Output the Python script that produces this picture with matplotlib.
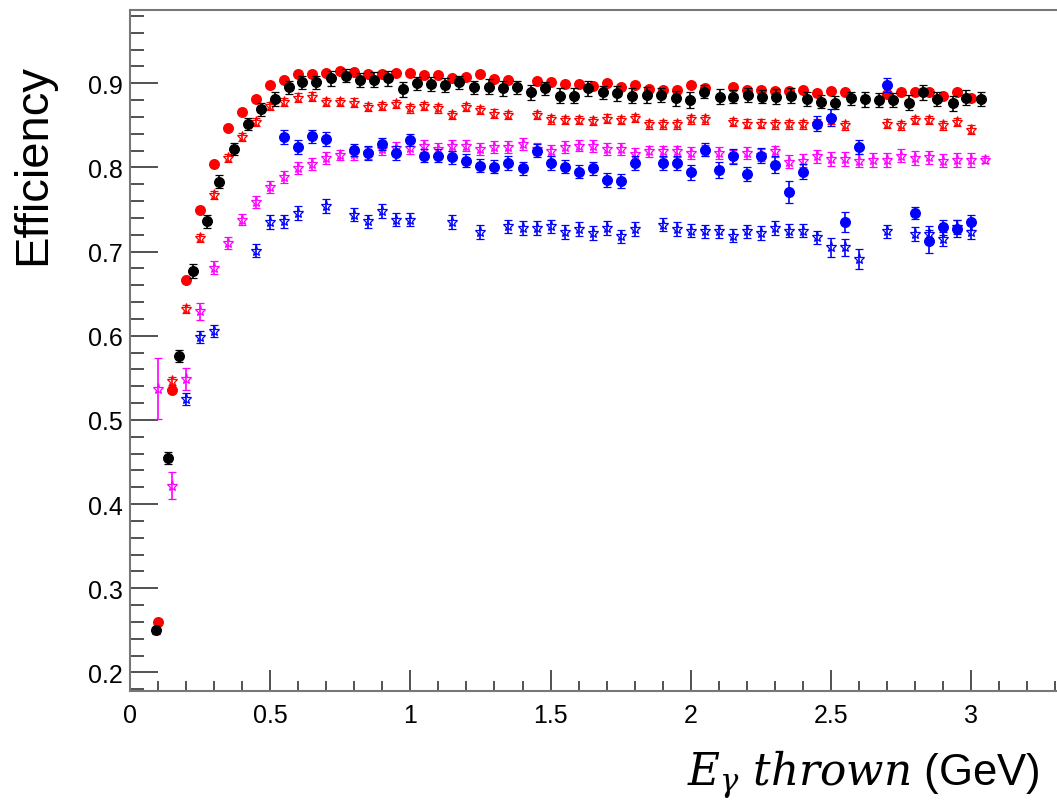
import matplotlib
matplotlib.use("Agg")
import matplotlib.pyplot as plt
from matplotlib.ticker import MultipleLocator, FormatStrFormatter

plt.rcParams['font.family'] = ['Liberation Sans', 'DejaVu Sans']
plt.rcParams['mathtext.fontset'] = 'dejavuserif'

# black: full circles
x_black = [0.093, 0.137, 0.176, 0.224, 0.274, 0.319, 0.372, 0.420, 0.466, 0.517,
           0.567, 0.615, 0.665, 0.717, 0.770, 0.821, 0.871, 0.922, 0.972, 1.023,
           1.073, 1.125, 1.175, 1.226, 1.280, 1.330, 1.380, 1.431, 1.482, 1.535,
           1.585, 1.635, 1.687, 1.737, 1.790, 1.844, 1.894, 1.948, 1.999, 2.048,
           2.103, 2.151, 2.203, 2.254, 2.305, 2.359, 2.413, 2.465, 2.516, 2.570,
           2.621, 2.671, 2.722, 2.778, 2.828, 2.879, 2.935, 2.983, 3.036]
y_black = [0.250, 0.455, 0.576, 0.677, 0.736, 0.783, 0.822, 0.852, 0.869, 0.881,
           0.895, 0.901, 0.901, 0.906, 0.909, 0.904, 0.904, 0.906, 0.893, 0.900,
           0.899, 0.898, 0.901, 0.895, 0.896, 0.894, 0.895, 0.889, 0.894, 0.885,
           0.885, 0.894, 0.889, 0.888, 0.885, 0.886, 0.886, 0.882, 0.880, 0.890,
           0.884, 0.884, 0.886, 0.884, 0.884, 0.885, 0.881, 0.878, 0.877, 0.882,
           0.881, 0.880, 0.880, 0.877, 0.889, 0.881, 0.876, 0.883, 0.881]
e_black = [0.004, 0.007, 0.007, 0.008, 0.008, 0.008, 0.007, 0.007, 0.008, 0.008,
           0.008, 0.008, 0.008, 0.009, 0.008, 0.008, 0.009, 0.009, 0.009, 0.008,
           0.008, 0.008, 0.008, 0.008, 0.009, 0.009, 0.008, 0.009, 0.008, 0.009,
           0.009, 0.009, 0.008, 0.009, 0.009, 0.009, 0.008, 0.009, 0.009, 0.008,
           0.009, 0.008, 0.008, 0.008, 0.009, 0.009, 0.008, 0.008, 0.008, 0.008,
           0.009, 0.008, 0.008, 0.009, 0.009, 0.008, 0.009, 0.009, 0.008]

# red: full circles
x_red = [0.10, 0.15, 0.20, 0.25, 0.30, 0.35, 0.40, 0.45, 0.50, 0.55,
         0.60, 0.65, 0.70, 0.75, 0.80, 0.85, 0.90, 0.95, 1.00, 1.05,
         1.10, 1.15, 1.20, 1.25, 1.30, 1.35, 1.45, 1.50, 1.55, 1.60,
         1.65, 1.70, 1.75, 1.80, 1.85, 1.90, 1.95, 2.00, 2.05, 2.15,
         2.20, 2.25, 2.30, 2.35, 2.40, 2.45, 2.50, 2.55, 2.70, 2.75,
         2.80, 2.85, 2.90, 2.95, 3.00]
y_red = [0.260, 0.535, 0.666, 0.750, 0.804, 0.847, 0.866, 0.881, 0.898, 0.904,
         0.911, 0.911, 0.912, 0.915, 0.913, 0.911, 0.911, 0.912, 0.912, 0.910,
         0.910, 0.906, 0.908, 0.911, 0.905, 0.904, 0.903, 0.902, 0.899, 0.899,
         0.897, 0.900, 0.896, 0.898, 0.893, 0.892, 0.892, 0.898, 0.894, 0.896,
         0.892, 0.892, 0.891, 0.891, 0.892, 0.888, 0.891, 0.889, 0.887, 0.890,
         0.889, 0.889, 0.885, 0.890, 0.882]

# red: open stars
x_red_s = [0.15, 0.20, 0.25, 0.30, 0.35, 0.40, 0.45, 0.50, 0.55, 0.60,
           0.65, 0.70, 0.75, 0.80, 0.85, 0.90, 0.95, 1.00, 1.05, 1.10,
           1.15, 1.20, 1.25, 1.30, 1.35, 1.45, 1.50, 1.55, 1.60, 1.65,
           1.70, 1.75, 1.80, 1.85, 1.90, 1.95, 2.00, 2.05, 2.15, 2.20,
           2.25, 2.30, 2.35, 2.40, 2.45, 2.50, 2.55, 2.70, 2.75, 2.80,
           2.85, 2.90, 2.95, 3.00]
y_red_s = [0.546, 0.632, 0.716, 0.767, 0.811, 0.836, 0.854, 0.873, 0.878, 0.883,
           0.884, 0.878, 0.878, 0.877, 0.872, 0.873, 0.875, 0.870, 0.873, 0.870,
           0.862, 0.872, 0.868, 0.864, 0.862, 0.862, 0.857, 0.856, 0.856, 0.855,
           0.858, 0.856, 0.859, 0.851, 0.851, 0.851, 0.857, 0.857, 0.854, 0.852,
           0.852, 0.851, 0.851, 0.851, 0.852, 0.856, 0.850, 0.852, 0.850, 0.856,
           0.856, 0.850, 0.854, 0.845]

# magenta: open stars
x_mag = [0.10, 0.15, 0.20, 0.25, 0.30, 0.35, 0.40, 0.45, 0.50, 0.55,
         0.60, 0.65, 0.70, 0.75, 0.80, 0.85, 0.90, 0.95, 1.00, 1.05,
         1.10, 1.15, 1.20, 1.25, 1.30, 1.35, 1.40, 1.45, 1.50, 1.55,
         1.60, 1.65, 1.70, 1.75, 1.80, 1.85, 1.90, 1.95, 2.00, 2.05,
         2.10, 2.15, 2.20, 2.25, 2.30, 2.35, 2.40, 2.45, 2.50, 2.55,
         2.60, 2.65, 2.70, 2.75, 2.80, 2.85, 2.90, 2.95, 3.00, 3.05]
y_mag = [0.537, 0.422, 0.549, 0.629, 0.681, 0.710, 0.738, 0.759, 0.777, 0.789,
         0.799, 0.804, 0.811, 0.815, 0.816, 0.817, 0.822, 0.823, 0.823, 0.825,
         0.822, 0.826, 0.826, 0.822, 0.824, 0.824, 0.828, 0.822, 0.820, 0.824,
         0.826, 0.825, 0.822, 0.822, 0.816, 0.819, 0.819, 0.819, 0.817, 0.820,
         0.817, 0.813, 0.817, 0.815, 0.819, 0.807, 0.808, 0.813, 0.810, 0.810,
         0.808, 0.809, 0.809, 0.814, 0.811, 0.812, 0.808, 0.809, 0.809, 0.809]
e_mag = [0.036, 0.016, 0.013, 0.010, 0.008, 0.007, 0.007, 0.007, 0.007, 0.007,
         0.007, 0.007, 0.007, 0.006, 0.007, 0.007, 0.007, 0.007, 0.007, 0.007,
         0.007, 0.007, 0.007, 0.007, 0.007, 0.007, 0.007, 0.007, 0.007, 0.007,
         0.007, 0.007, 0.007, 0.007, 0.007, 0.007, 0.007, 0.007, 0.007, 0.007,
         0.007, 0.008, 0.007, 0.007, 0.007, 0.008, 0.008, 0.008, 0.008, 0.008,
         0.008, 0.008, 0.008, 0.008, 0.008, 0.008, 0.008, 0.008, 0.008, 0.004]

# blue: full circles
x_blue = [0.55, 0.60, 0.65, 0.70, 0.80, 0.85, 0.90, 0.95, 1.00, 1.05,
          1.10, 1.15, 1.20, 1.25, 1.30, 1.35, 1.40, 1.45, 1.50, 1.55,
          1.60, 1.65, 1.70, 1.75, 1.80, 1.90, 1.95, 2.00, 2.05, 2.10,
          2.15, 2.20, 2.25, 2.30, 2.35, 2.40, 2.45, 2.50, 2.55, 2.60,
          2.70, 2.80, 2.85, 2.90, 2.95, 3.00]
y_blue = [0.836, 0.824, 0.837, 0.834, 0.821, 0.817, 0.828, 0.817, 0.833, 0.814,
          0.814, 0.812, 0.808, 0.802, 0.801, 0.805, 0.799, 0.820, 0.805, 0.801,
          0.795, 0.799, 0.785, 0.784, 0.805, 0.805, 0.805, 0.794, 0.821, 0.797,
          0.813, 0.792, 0.814, 0.803, 0.771, 0.795, 0.852, 0.859, 0.735, 0.824,
          0.898, 0.746, 0.712, 0.729, 0.727, 0.735]
e_blue = [0.008, 0.008, 0.008, 0.008, 0.007, 0.008, 0.007, 0.008, 0.007, 0.008,
          0.008, 0.008, 0.008, 0.008, 0.008, 0.008, 0.008, 0.008, 0.008, 0.008,
          0.008, 0.008, 0.008, 0.008, 0.008, 0.008, 0.008, 0.009, 0.008, 0.010,
          0.009, 0.008, 0.009, 0.010, 0.013, 0.009, 0.009, 0.010, 0.012, 0.008,
          0.008, 0.007, 0.014, 0.009, 0.010, 0.009]

# blue: open stars
x_blue_s = [0.20, 0.25, 0.30, 0.45, 0.50, 0.55, 0.60, 0.70, 0.80, 0.85,
            0.90, 0.95, 1.00, 1.15, 1.25, 1.35, 1.40, 1.45, 1.50, 1.55,
            1.60, 1.65, 1.70, 1.75, 1.80, 1.90, 1.95, 2.00, 2.05, 2.10,
            2.15, 2.20, 2.25, 2.30, 2.35, 2.40, 2.45, 2.50, 2.55, 2.60,
            2.70, 2.80, 2.85, 2.90, 2.95, 3.00]
y_blue_s = [0.525, 0.599, 0.606, 0.701, 0.735, 0.736, 0.746, 0.754, 0.744, 0.736,
            0.748, 0.738, 0.738, 0.735, 0.723, 0.730, 0.728, 0.728, 0.730, 0.723,
            0.727, 0.722, 0.728, 0.718, 0.727, 0.732, 0.727, 0.725, 0.724, 0.724,
            0.719, 0.724, 0.722, 0.728, 0.725, 0.725, 0.717, 0.705, 0.705, 0.691,
            0.724, 0.721, 0.721, 0.715, 0.729, 0.723]
e_blue_s = [0.007, 0.007, 0.007, 0.008, 0.008, 0.008, 0.008, 0.008, 0.008, 0.008,
            0.008, 0.008, 0.008, 0.008, 0.008, 0.008, 0.008, 0.008, 0.008, 0.008,
            0.008, 0.008, 0.008, 0.008, 0.008, 0.008, 0.008, 0.008, 0.008, 0.008,
            0.008, 0.008, 0.008, 0.008, 0.008, 0.008, 0.008, 0.011, 0.010, 0.012,
            0.008, 0.008, 0.009, 0.008, 0.008, 0.008]


def draw_set(ax, x, y, err, color, marker, filled, size, zorder):
    ax.errorbar(x, y, yerr=err, fmt=marker, color=color, ecolor=color,
                markersize=size, markeredgewidth=0.9,
                markerfacecolor=color if filled else 'none',
                markeredgecolor=color, elinewidth=1.2, capsize=2.8,
                capthick=1.2, zorder=zorder)


fig = plt.figure(figsize=(10.57, 8.03), dpi=100)
ax = fig.add_axes([130 / 1057, 1 - 692 / 803, 928 / 1057, 681 / 803])

draw_set(ax, x_red, y_red, [0.003] * len(x_red), '#ff0000', 'o', True, 7, 3)
draw_set(ax, x_red_s, y_red_s, [0.005] * len(x_red_s), '#ff0000', '*', False, 8, 4)
draw_set(ax, x_mag, y_mag, e_mag, '#ff00ff', '*', False, 8, 5)
draw_set(ax, x_blue_s, y_blue_s, e_blue_s, '#0000ff', '*', False, 8, 6)
draw_set(ax, x_black, y_black, e_black, 'black', 'o', True, 7, 7)
draw_set(ax, x_blue, y_blue, e_blue, '#0000ff', 'o', True, 7, 8)

ax.set_xlim(0, 3.31)
ax.set_ylim(0.178, 0.987)

ax.xaxis.set_major_locator(MultipleLocator(0.5))
ax.xaxis.set_minor_locator(MultipleLocator(0.1))
ax.yaxis.set_major_locator(MultipleLocator(0.1))
ax.yaxis.set_minor_locator(MultipleLocator(0.02))
ax.xaxis.set_major_formatter(FormatStrFormatter('%g'))
ax.yaxis.set_major_formatter(FormatStrFormatter('%g'))

ax.tick_params(axis='both', which='both', direction='in', colors='#333333',
               labelcolor='black', labelsize=18, width=1.2)
ax.tick_params(axis='x', which='major', length=15, pad=9)
ax.tick_params(axis='x', which='minor', length=7.5)
ax.tick_params(axis='y', which='major', length=20, pad=5)
ax.tick_params(axis='y', which='minor', length=10)

for side in ['left', 'bottom', 'top']:
    ax.spines[side].set_color('#777777')
    ax.spines[side].set_linewidth(1.5)
ax.spines['right'].set_visible(False)

fig.text(33 / 1057, 1 - 165 / 803, 'Efficiency', rotation=90, fontsize=34,
         ha='center', va='center')
fig.text(1040 / 1057, 1 - 786 / 803, r'$E_{\gamma}\ thrown$ (GeV)',
         fontsize=31.5, ha='right', va='baseline')

fig.savefig('out.png', dpi=100)
